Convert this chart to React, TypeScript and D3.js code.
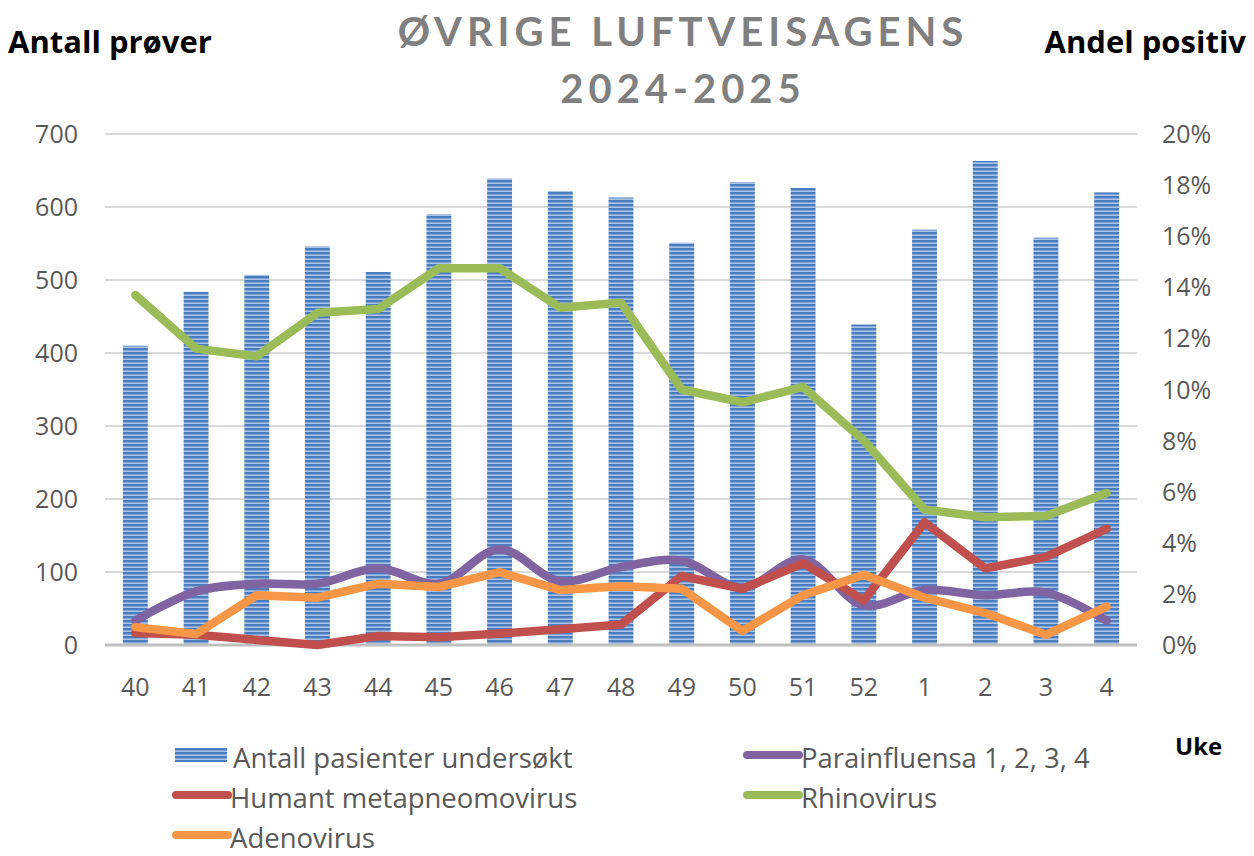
import React from 'react';
import * as d3 from 'd3';

const weeks = ['40', '41', '42', '43', '44', '45', '46', '47', '48', '49', '50', '51', '52', '1', '2', '3', '4'];
const patients = [410, 484, 507, 546, 511, 590, 639, 622, 613, 551, 634, 626, 439, 569, 663, 558, 620];
const parainfluensa = [0.95, 2.1, 2.4, 2.4, 3.0, 2.4, 3.75, 2.5, 3.05, 3.3, 2.25, 3.35, 1.55, 2.15, 1.95, 2.05, 0.95];
const metapneumo = [0.47, 0.4, 0.2, 0.0, 0.35, 0.3, 0.45, 0.62, 0.8, 2.7, 2.2, 3.2, 1.75, 4.8, 3.0, 3.45, 4.55];
const rhinovirus = [13.7, 11.6, 11.3, 13.0, 13.15, 14.75, 14.75, 13.2, 13.4, 10.0, 9.5, 10.1, 8.0, 5.3, 5.0, 5.05, 5.95];
const adenovirus = [0.7, 0.43, 1.95, 1.85, 2.4, 2.27, 2.85, 2.15, 2.3, 2.2, 0.55, 1.95, 2.75, 1.85, 1.25, 0.4, 1.5];
const leftTicks = [0, 100, 200, 300, 400, 500, 600, 700];
const rightTicks = [0, 2, 4, 6, 8, 10, 12, 14, 16, 18, 20];

const W = 1254;
const H = 856;
const left = 105;
const right = 1137;
const top = 134;
const bottom = 645;
const titleFont = 'Lato, "Open Sans", sans-serif';
const font = '"Open Sans", Lato, sans-serif';

export default function App() {
  const x = d3.scaleBand<string>().domain(weeks).range([left, right]).paddingInner(0.59).paddingOuter(0.295);
  const y = d3.scaleLinear().domain([0, 700]).range([bottom, top]);
  const y2 = d3.scaleLinear().domain([0, 20]).range([bottom, top]);
  const cx = (i: number) => (x(weeks[i]) || 0) + x.bandwidth() / 2;

  const straight = d3.line<number>().x((_, i) => cx(i)).y(d => y2(d));
  const smooth = d3.line<number>().x((_, i) => cx(i)).y(d => y2(d)).curve(d3.curveCatmullRom.alpha(0.5));

  // purple, red, green, orange on top
  const lines = [
    { name: 'Parainfluensa 1, 2, 3, 4', data: parainfluensa, color: '#8064a2', gen: smooth },
    { name: 'Humant metapneomovirus', data: metapneumo, color: '#c0504d', gen: straight },
    { name: 'Rhinovirus', data: rhinovirus, color: '#9bbb59', gen: straight },
    { name: 'Adenovirus', data: adenovirus, color: '#f79646', gen: straight },
  ];

  const legend = [
    { label: 'Antall pasienter undersøkt', kind: 'bar', color: '', x: 175, y: 760 },
    { label: 'Parainfluensa 1, 2, 3, 4', kind: 'line', color: '#8064a2', x: 743, y: 760 },
    { label: 'Humant metapneomovirus', kind: 'line', color: '#c0504d', x: 172, y: 800 },
    { label: 'Rhinovirus', kind: 'line', color: '#9bbb59', x: 743, y: 800 },
    { label: 'Adenovirus', kind: 'line', color: '#f79646', x: 172, y: 840 },
  ];

  return (
    <svg width={W} height={H} style={{ position: 'absolute', left: 0, top: 0, background: '#fff' }} fontFamily={font}>
      <defs>
        <pattern id="stripes" width="6" height="4" patternUnits="userSpaceOnUse">
          <rect width="6" height="4" fill="#a9c2e6" />
          <rect width="6" height="2.4" fill="#4a7dbf" />
        </pattern>
      </defs>

      <text x={683} y={46} textAnchor="middle" fontFamily={titleFont} fontSize={40} fontWeight={700} fill="#808080" letterSpacing={5}>ØVRIGE LUFTVEISAGENS</text>
      <text x={683} y={103} textAnchor="middle" fontFamily={titleFont} fontSize={40} fontWeight={700} fill="#808080" letterSpacing={5}>2024-2025</text>
      <text x={8} y={53} fontSize={31} fontWeight={700} fill="#000">Antall prøver</text>
      <text x={1246} y={53} textAnchor="end" fontSize={31} fontWeight={700} fill="#000">Andel positiv</text>

      {leftTicks.slice(1).map(t => (
        <line key={t} x1={left} x2={right} y1={y(t)} y2={y(t)} stroke="#d9d9d9" strokeWidth={2} />
      ))}

      {patients.map((v, i) => (
        <rect key={i} x={x(weeks[i])} y={y(v)} width={x.bandwidth()} height={bottom - y(v)} fill="url(#stripes)" />
      ))}

      <line x1={left} x2={right} y1={bottom} y2={bottom} stroke="#bfbfbf" strokeWidth={3} />

      {lines.map(s => (
        <path key={s.name} d={s.gen(s.data) || ''} fill="none" stroke={s.color} strokeWidth={8.5} strokeLinejoin="round" strokeLinecap="round" />
      ))}

      {leftTicks.map(t => (
        <text key={t} x={78} y={y(t) + 9} textAnchor="end" fontSize={25} fill="#595959">{t}</text>
      ))}
      {rightTicks.map(t => (
        <text key={t} x={1162} y={y2(t) + 9} fontSize={25} fill="#595959">{t}%</text>
      ))}
      {weeks.map((w, i) => (
        <text key={w} x={cx(i)} y={696} textAnchor="middle" fontSize={25} fill="#595959">{w}</text>
      ))}

      <text x={1175} y={755} fontSize={24} fontWeight={700} fill="#000">Uke</text>

      {legend.map(l => (
        <g key={l.label}>
          {l.kind === 'bar' ? (
            <rect x={l.x} y={l.y - 12} width={52} height={14} fill="url(#stripes)" />
          ) : (
            <line x1={l.x + 4} x2={l.x + 56} y1={l.y - 5} y2={l.y - 5} stroke={l.color} strokeWidth={8} strokeLinecap="round" />
          )}
          <text x={l.x + 58} y={l.y + 8} fontSize={27.5} fill="#595959">{l.label}</text>
        </g>
      ))}
    </svg>
  );
}
